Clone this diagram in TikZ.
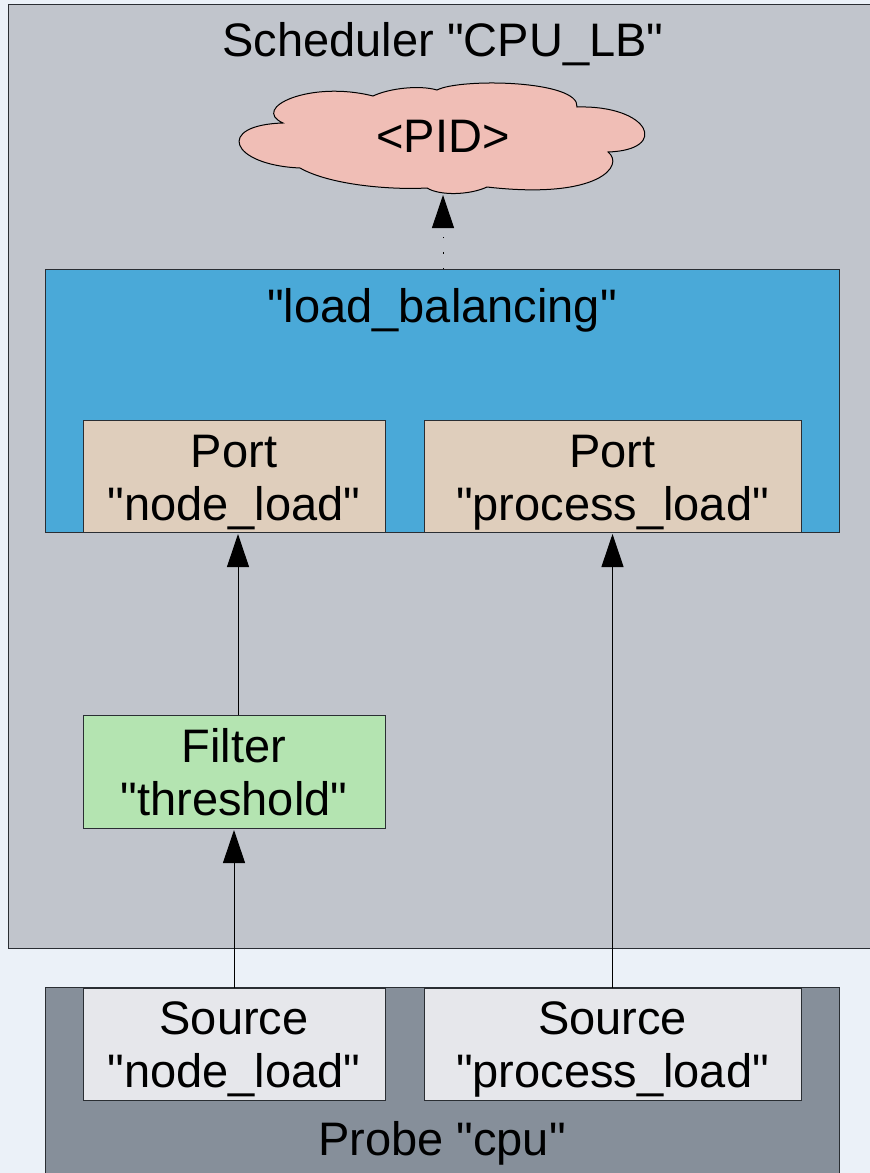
\documentclass[tikz,border=0pt]{standalone}
\usepackage{fontspec}
\setmainfont{Liberation Sans}[Ligatures=TeXOff]
\usetikzlibrary{arrows.meta}

\definecolor{bgpage}{HTML}{EBF1F8}
\definecolor{schedgray}{HTML}{C1C5CC}
\definecolor{lbblue}{HTML}{4AA9D8}
\definecolor{porttan}{HTML}{DFCEBC}
\definecolor{filtergreen}{HTML}{B4E4B1}
\definecolor{probegray}{HTML}{868F9A}
\definecolor{srcgray}{HTML}{E6E7EB}
\definecolor{cloudpink}{HTML}{F0BEB6}
\definecolor{edge}{HTML}{2A2E33}

% two-line label whose baseline is that of its first line
\newcommand{\twolines}[2]{\begin{tabular}[t]{@{}c@{}}#1\\#2\end{tabular}}

\tikzset{
  box/.style={draw=edge, line width=1pt, rectangle, inner sep=0pt, outer sep=0pt,
              font=\fontsize{47}{52.7}\selectfont},
  arr/.style={draw=black, line width=1pt,
              -{Triangle[length=33pt, width=22pt]}, shorten >=2pt},
}

\begin{document}
\begin{tikzpicture}[x=1pt, y=-1pt]
  \useasboundingbox (0,0) rectangle (870,1173);
  \fill[bgpage] (0,0) rectangle (870,1173);

  % scheduler frame
  \node[box, fill=schedgray, minimum width=870pt, minimum height=944pt,
        text height=52.7pt, text depth=891.3pt] (sched) at (443,476)
        {Scheduler "CPU\_LB"};

  % result cloud
  \draw[draw=black, line width=1pt, fill=cloudpink]
    (283,123) .. controls (250,108) and (310,80) .. (373,96)
    .. controls (390,88) and (420,85) .. (437,90)
    .. controls (460,78) and (580,80) .. (577,107)
    .. controls (650,105) and (670,150) .. (608,152)
    .. controls (625,165) and (600,200) .. (487,187)
    .. controls (470,195) and (440,196) .. (427,188)
    .. controls (390,190) and (330,185) .. (300,168)
    .. controls (230,165) and (215,125) .. (283,123) -- cycle;
  \node[inner sep=0pt, anchor=base, font=\fontsize{47}{52.7}\selectfont] (pid)
    at (443,152) {<PID>};
  \coordinate (cloudbot) at (443,193);

  % load balancing component and its ports
  \node[box, fill=lbblue, minimum width=794pt, minimum height=263pt,
        text height=53pt, text depth=210pt] (lb) at (442,400.5)
        {"load\_balancing"};
  \node[box, fill=porttan, minimum width=302pt, minimum height=112pt,
        text height=47.3pt, text depth=64.7pt] (portA) at (234,476)
        {\twolines{Port}{"node\_load"}};
  \node[box, fill=porttan, minimum width=377pt, minimum height=112pt,
        text height=47.3pt, text depth=64.7pt] (portB) at (612.5,476)
        {\twolines{Port}{"process\_load"}};

  % filter
  \node[box, fill=filtergreen, minimum width=302pt, minimum height=113pt,
        text height=47.3pt, text depth=65.7pt] (filter) at (234,771.5)
        {\twolines{Filter}{"threshold"}};

  % probe and its sources
  \node[box, fill=probegray, minimum width=794pt, minimum height=213pt,
        text height=168.7pt, text depth=44.3pt] (probe) at (442,1093.5)
        {Probe "cpu"};
  \node[box, fill=srcgray, minimum width=302pt, minimum height=112pt,
        text height=46.5pt, text depth=65.5pt] (srcA) at (234,1044)
        {\twolines{Source}{"node\_load"}};
  \node[box, fill=srcgray, minimum width=377pt, minimum height=112pt,
        text height=46.5pt, text depth=65.5pt] (srcB) at (612.5,1044)
        {\twolines{Source}{"process\_load"}};

  % data flow
  \draw[arr] (srcA.north) -- (filter.south);
  \draw[arr] ([xshift=4pt]filter.north) -- ([xshift=4pt]portA.south);
  \draw[arr] (srcB.north) -- (portB.south);
  \draw[arr, dash pattern=on 1.5pt off 14pt] (cloudbot |- lb.north) -- (cloudbot);
\end{tikzpicture}
\end{document}
